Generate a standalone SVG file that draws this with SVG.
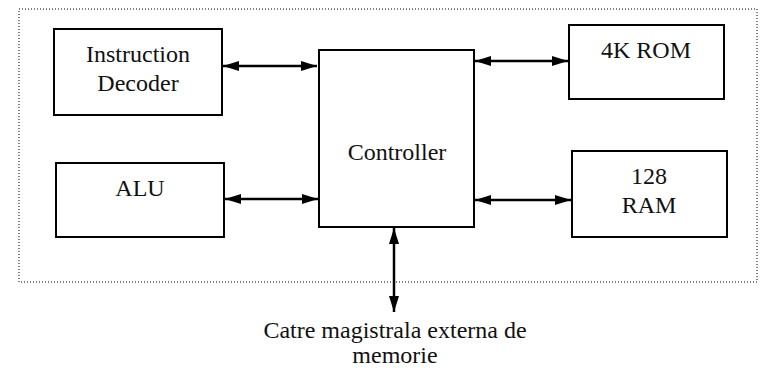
<svg xmlns="http://www.w3.org/2000/svg" width="760" height="368" viewBox="0 0 760 368">
<defs>
<marker id="ah" viewBox="0 0 16 10" refX="16" refY="5" markerWidth="16" markerHeight="10" markerUnits="userSpaceOnUse" orient="auto-start-reverse">
<path d="M0,0 L16,5 L0,10 Z" fill="#000"/>
</marker>
</defs>
<style>
.box{fill:#fff;stroke:#000;stroke-width:2}
.t{font-family:"Liberation Serif","Times New Roman",serif;font-size:24px;fill:#111;text-anchor:middle}
.c{stroke:#000;stroke-width:2.5;fill:none;marker-start:url(#ah);marker-end:url(#ah)}
</style>
<rect x="19" y="9" width="738" height="273" fill="none" stroke="#000" stroke-width="1" stroke-dasharray="1,2"/>
<g id="decoder">
<rect class="box" x="54" y="29" width="168" height="86"/>
<text class="t" x="138" y="62">Instruction</text>
<text class="t" x="138" y="91">Decoder</text>
</g>
<g id="alu">
<rect class="box" x="56" y="163" width="168" height="74"/>
<text class="t" x="140" y="196">ALU</text>
</g>
<g id="controller">
<rect class="box" x="319" y="50" width="155" height="177"/>
<text class="t" x="397" y="160">Controller</text>
</g>
<g id="rom">
<rect class="box" x="569" y="25" width="155" height="74"/>
<text class="t" x="646" y="58">4K ROM</text>
</g>
<g id="ram">
<rect class="box" x="572" y="151" width="155" height="86"/>
<text class="t" x="649" y="184">128</text>
<text class="t" x="649" y="213">RAM</text>
</g>
<g id="connectors">
<line class="c" x1="223" y1="66" x2="317" y2="66"/>
<line class="c" x1="225" y1="199" x2="318" y2="199"/>
<line class="c" x1="475" y1="61" x2="568" y2="61"/>
<line class="c" x1="475" y1="200" x2="571" y2="200"/>
<line class="c" x1="394" y1="228" x2="394" y2="312"/>
</g>
<g id="label">
<text class="t" x="395" y="338">Catre magistrala externa de</text>
<text class="t" x="395" y="363">memorie</text>
</g>
</svg>
